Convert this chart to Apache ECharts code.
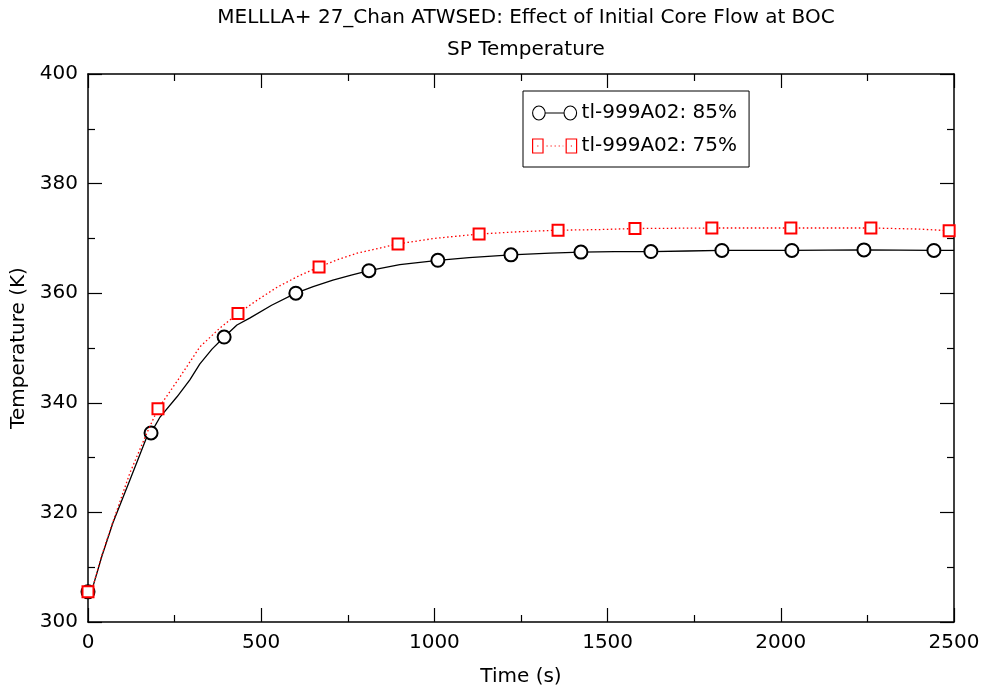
<!DOCTYPE html>
<html>
<head>
<meta charset="utf-8">
<script src="https://cdn.jsdelivr.net/npm/echarts@6/dist/echarts.min.js"></script>
<style>html,body{margin:0;padding:0;background:#fff}#c{width:984px;height:693px}</style>
</head>
<body>
<div id="c"></div>
<script>
// ---- data ----
var titleLine1 = 'MELLLA+ 27_Chan ATWSED: Effect of Initial Core Flow at BOC';
var titleLine2 = 'SP Temperature';
var xName = 'Time (s)';
var yName = 'Temperature (K)';
var seriesNames = ['tl-999A02: 85%', 'tl-999A02: 75%'];

var time85 = [0, 14, 40, 72, 121, 170, 182, 208, 257, 294, 323, 358, 393, 430, 468, 530, 600, 650, 707, 760, 811, 900, 1010, 1100, 1221, 1334, 1423, 1520, 1625, 1730, 1830, 2032, 2240, 2442, 2500];
var temp85 = [305.5, 306.4, 312.0, 318.1, 325.9, 333.8, 334.5, 337.4, 341.1, 344.2, 347.1, 349.8, 352.0, 354.2, 355.5, 357.8, 360.0, 361.2, 362.4, 363.3, 364.1, 365.2, 366.0, 366.5, 367.0, 367.3, 367.5, 367.6, 367.6, 367.7, 367.8, 367.8, 367.9, 367.8, 367.8];
var markers85 = [0, 182, 393, 600, 811, 1010, 1221, 1423, 1625, 1830, 2032, 2240, 2442];

var time75 = [0, 14, 40, 72, 121, 170, 202, 260, 323, 380, 433, 490, 546, 610, 667, 720, 777, 840, 895, 1000, 1129, 1240, 1357, 1470, 1579, 1801, 2029, 2260, 2400, 2486, 2500];
var temp75 = [305.5, 306.4, 312.2, 318.3, 327.2, 334.5, 338.9, 344.2, 350.2, 353.6, 356.3, 358.8, 361.1, 363.2, 364.8, 366.1, 367.3, 368.2, 369.0, 370.0, 370.8, 371.2, 371.5, 371.6, 371.8, 371.9, 371.9, 371.9, 371.7, 371.4, 371.4];
var markers75 = [0, 202, 433, 667, 895, 1129, 1357, 1579, 1801, 2029, 2260, 2486];

var xTicks = [0, 500, 1000, 1500, 2000, 2500];
var yTicks = [300, 320, 340, 360, 380, 400];

// ---- build ----
function build(ts, vs, marks, sym) {
  return ts.map(function (t, i) {
    return { value: [t, vs[i]], symbol: marks.indexOf(t) >= 0 ? sym : 'none' };
  });
}
var FONT = 'DejaVu Sans';
var axisCommon = {
  type: 'value',
  axisLine: { show: true, onZero: false, lineStyle: { color: '#000', width: 1.5 } },
  axisTick: { show: true, inside: true, length: 14, lineStyle: { color: '#000', width: 1.2 } },
  minorTick: { show: true, splitNumber: 2, length: 7, lineStyle: { color: '#000', width: 1.2 } },
  splitLine: { show: false },
  minorSplitLine: { show: false }
};
function xAx(pos, labels) {
  return Object.assign({}, axisCommon, {
    position: pos, min: xTicks[0], max: xTicks[xTicks.length - 1], interval: 500,
    name: labels ? xName : '', nameLocation: 'middle', nameGap: 45,
    nameTextStyle: { fontFamily: FONT, fontSize: 20, color: '#000' },
    axisLabel: { show: labels, fontFamily: FONT, fontSize: 20, color: '#000', margin: 11,
      formatter: function (v) { return String(v); } }
  });
}
function yAx(pos, labels) {
  return Object.assign({}, axisCommon, {
    position: pos, min: yTicks[0], max: yTicks[yTicks.length - 1], interval: 20,
    name: labels ? yName : '', nameLocation: 'middle', nameGap: 57,
    nameTextStyle: { fontFamily: FONT, fontSize: 20, color: '#000' },
    axisLabel: { show: labels, fontFamily: FONT, fontSize: 20, color: '#000', margin: 10,
      formatter: function (v) { return String(v); } }
  });
}
var circlePath = 'path://M1,7a6,6 0 1,0 12,0a6,6 0 1,0 -12,0M13,7L31,7M31,7a6,6 0 1,0 12,0a6,6 0 1,0 -12,0';
var squarePath = 'path://M3,3L12,3L12,12L3,12ZM32,3L41,3L41,12L32,12ZM15,7.5L16,7.5M18.5,7.5L19.5,7.5M22,7.5L23,7.5M25.5,7.5L26.5,7.5M29,7.5L29.5,7.5M7,7.5L8,7.5M36,7.5L37,7.5';

var chart = echarts.init(document.getElementById('c'));
chart.setOption({
  animation: false,
  backgroundColor: '#fff',
  title: [
    { text: titleLine1, left: 521, textAlign: 'center', top: 3, textStyle: { fontFamily: FONT, fontSize: 20, fontWeight: 'normal', color: '#000' } },
    { text: titleLine2, left: 521, textAlign: 'center', top: 35, textStyle: { fontFamily: FONT, fontSize: 20, fontWeight: 'normal', color: '#000' } }
  ],
  grid: { left: 88, right: 30, top: 74, bottom: 71, containLabel: false, outerBoundsMode: 'none' },
  xAxis: [xAx('bottom', true), xAx('top', false)],
  yAxis: [yAx('left', true), yAx('right', false)],
  legend: {
    orient: 'vertical', left: 523, top: 91,
    padding: [11, 12, 10, 9], itemGap: 11,
    backgroundColor: '#fff', borderColor: '#000', borderWidth: 1, borderRadius: 0,
    itemWidth: 44, itemHeight: 14, symbolKeepAspect: false,
    textStyle: { fontFamily: FONT, fontSize: 20, color: '#000', lineHeight: 22 },
    data: [
      { name: seriesNames[0], icon: circlePath, itemStyle: { color: 'transparent', borderColor: '#000', borderWidth: 1.1 } },
      { name: seriesNames[1], icon: squarePath, itemStyle: { color: 'transparent', borderColor: '#ff0000', borderWidth: 1.2 } }
    ]
  },
  series: [
    {
      name: seriesNames[0], type: 'line', xAxisIndex: 0, yAxisIndex: 0,
      symbol: 'emptyCircle', symbolSize: 13, showAllSymbol: true,
      itemStyle: { color: '#000', borderColor: '#000', borderWidth: 1 },
      lineStyle: { color: '#000', width: 1.3 },
      data: build(time85, temp85, markers85, 'emptyCircle'), z: 2
    },
    {
      name: seriesNames[1], type: 'line', xAxisIndex: 0, yAxisIndex: 0,
      symbol: 'emptyRect', symbolSize: 11, showAllSymbol: true,
      itemStyle: { color: '#ff0000', borderColor: '#ff0000', borderWidth: 1.2 },
      lineStyle: { color: '#ff0000', width: 1.3, type: [1.5, 2.5] },
      data: build(time75, temp75, markers75, 'emptyRect'), z: 3
    }
  ]
});
</script>
</body>
</html>
